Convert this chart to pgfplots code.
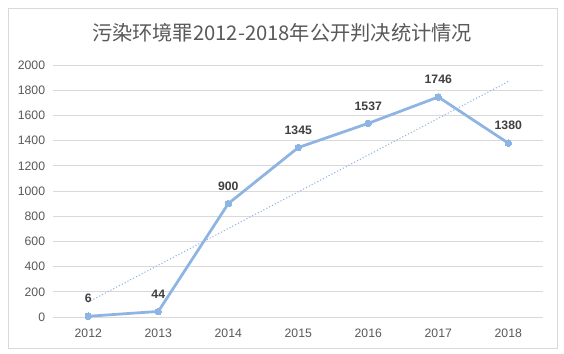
\documentclass[border=0pt]{standalone}
\usepackage{fontspec}
\setmainfont{Liberation Sans}
\newfontfamily\cjk{Noto Sans CJK SC}
\usepackage{pgfplots}
\pgfplotsset{compat=1.18}
\definecolor{linec}{HTML}{8EB4E3}
\definecolor{gridc}{HTML}{D9D9D9}
\definecolor{tickc}{HTML}{595959}
\definecolor{labc}{HTML}{404040}
\begin{document}
\begin{tikzpicture}
\useasboundingbox (0bp,0bp) rectangle (564bp,354bp);
\fill[white] (0bp,0bp) rectangle (564bp,354bp);
\draw[gridc, line width=0.75bp] (8bp,6bp) rectangle (557bp,346bp);
\node[font=\cjk\fontsize{20.3}{23}\selectfont, text=tickc] at (282bp,321.5bp) {污染环境罪2012-2018年公开判决统计情况};
\begin{axis}[
  at={(53.3bp,37bp)}, anchor=south west,
  scale only axis, width=490bp, height=252bp,
  xmin=-0.5, xmax=6.5, ymin=0, ymax=2000,
  axis line style={draw=none},
  ymajorgrids, grid style={gridc, line width=0.75bp},
  xtick={0,1,2,3,4,5,6},
  xticklabels={2012,2013,2014,2015,2016,2017,2018},
  ytick={0,200,400,600,800,1000,1200,1400,1600,1800,2000},
  major tick length=0pt,
  scaled y ticks=false,
  /pgf/number format/1000 sep={},
  /pgf/number format/assume math mode=true,
  tick label style={font=\fontsize{12.3}{14}\selectfont, text=tickc},
  yticklabel style={inner sep=0pt, anchor=east, xshift=-8bp},
  xticklabel style={inner sep=0pt, anchor=base, yshift=-20.3bp},
  clip=false,
]
\addplot[linec, line width=1.5bp, dash pattern=on 0bp off 3.2bp, line cap=round, forget plot]
  coordinates {(0,119.4) (6,1868.6)};
\addplot[linec, line width=2.75bp, mark=*, mark size=3.3bp,
  mark options={fill=linec, draw=linec, line width=0pt, solid},
  nodes near coords,
  every node near coord/.append style={font=\bfseries\fontsize{12.3}{14}\selectfont, text=labc, anchor=center, yshift=17.5bp, inner sep=0pt}]
  coordinates {(0,6) (1,44) (2,900) (3,1345) (4,1537) (5,1746) (6,1380)};
\end{axis}
\end{tikzpicture}
\end{document}
